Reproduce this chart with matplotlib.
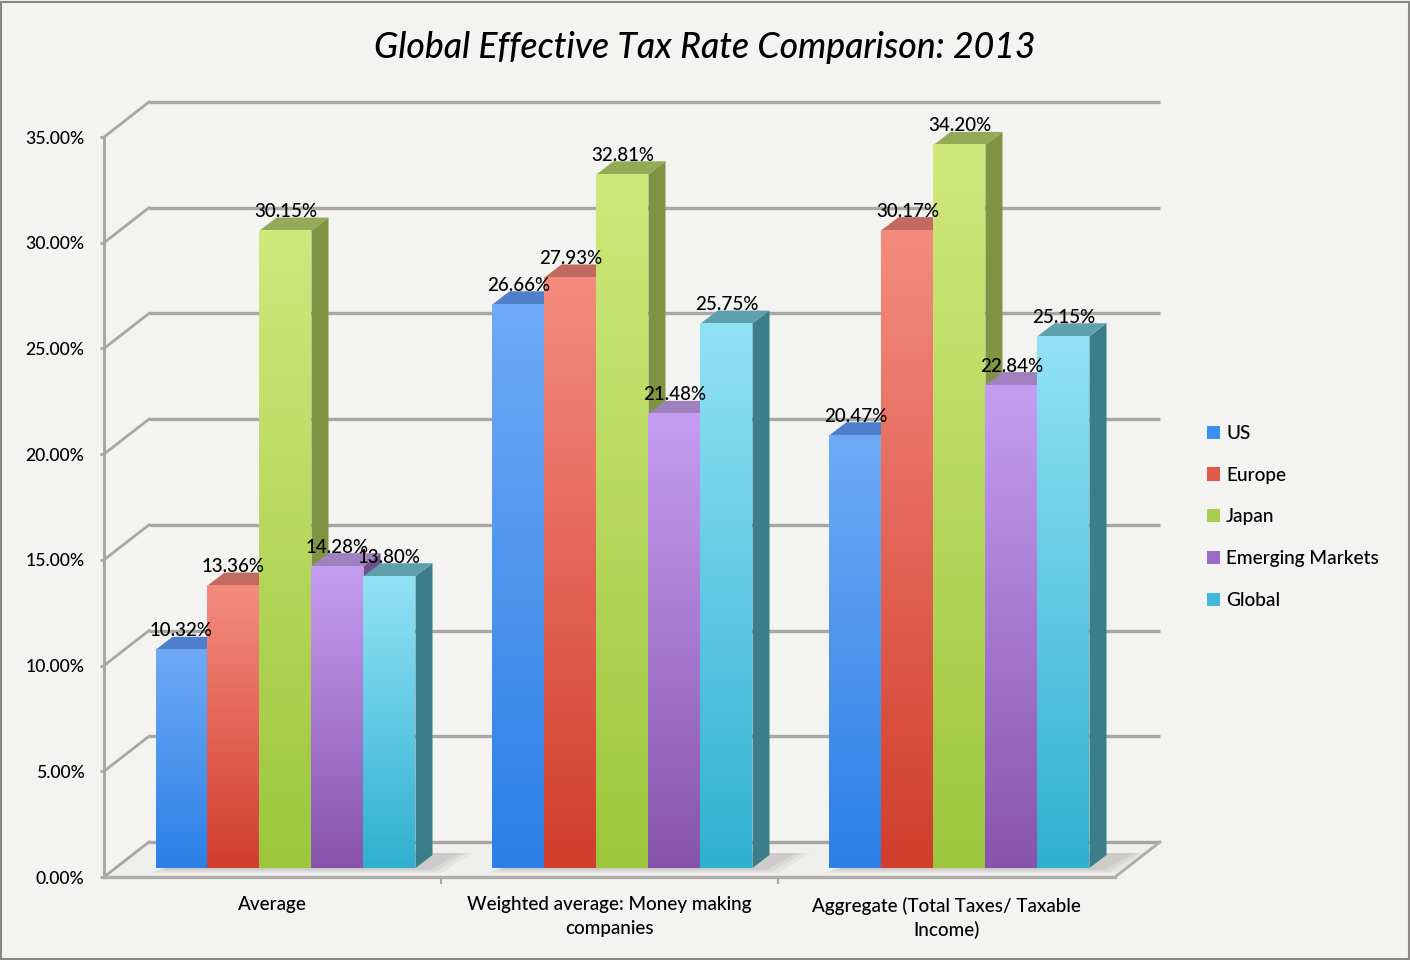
import numpy as np
import matplotlib
matplotlib.use("Agg")
import matplotlib.pyplot as plt
from matplotlib.patches import Polygon, Rectangle, Patch
from matplotlib.colors import LinearSegmentedColormap

plt.rcParams['font.family'] = ['Lato', 'DejaVu Sans']

# ---------------- data ----------------
categories = ["Average",
              "Weighted average: Money making\ncompanies",
              "Aggregate (Total Taxes/ Taxable\nIncome)"]
series_names = ["US", "Europe", "Japan", "Emerging Markets", "Global"]
us = [10.32, 26.66, 20.47]
europe = [13.36, 27.93, 30.17]
japan = [30.15, 32.81, 34.20]
emerging = [14.28, 21.48, 22.84]
global_ = [13.80, 25.75, 25.15]
yticks = [0, 5, 10, 15, 20, 25, 30, 35]
title = "Global Effective Tax Rate Comparison: 2013"

series_values = [us, europe, japan, emerging, global_]

# ---------------- style ----------------
top_cols = ['#6eaaf6', '#f48c7e', '#cfe97c', '#c59df2', '#92e2f6']
bot_cols = ['#2c7fe6', '#d13d2d', '#9dc63c', '#8754ad', '#2fb0d0']
side_cols = ['#2d5fa6', '#a8463c', '#7f9443', '#6f4f8c', '#3b7d88']
topf_cols = ['#4f7fcb', '#c26a60', '#93ab57', '#a081c0', '#5fa0ad']
leg_cols = ['#3c8ef0', '#e05a48', '#a8cc50', '#9a6ac8', '#40b8d8']
grid_col = '#a9a7a4'
bg = '#f3f3f2'
fw = 'medium'

W, H = 1410, 960
fig = plt.figure(figsize=(W / 100, H / 100), dpi=100)
fig.patch.set_facecolor(bg)

# axes in pixel layout
ax_l, ax_r, ax_t, ax_b = 60, 1200, 90, 900
ax = fig.add_axes([ax_l / W, (H - ax_b) / H, (ax_r - ax_l) / W, (ax_b - ax_t) / H])
ax.set_facecolor('none')

front_l, front_r, y0px, y35px = 104, 1115, 877, 137
ppx = (front_r - front_l) / 3.0
ppy = (y0px - y35px) / 35.0
xlim = (-0.5 - (front_l - ax_l) / ppx, 2.5 + (ax_r - front_r) / ppx)
ylim = (-(ax_b - y0px) / ppy, 35 + (y35px - ax_t) / ppy)

DX, DY = 45 / ppx, 35 / ppy          # wall depth
ox, oy = 13 / ppx, 9 / ppy           # bar front offset
ddx, ddy = 17 / ppx, 13 / ppy        # bar depth
bw = 52 / ppx                        # bar width

# floor
floor = Polygon([(-0.5, 0), (2.5, 0), (2.5 + DX, DY), (-0.5 + DX, DY)],
                closed=True, facecolor='#efefee', edgecolor='#b8b6b3', lw=1.5, zorder=1)
ax.add_patch(floor)

# grid lines on back wall and side wall
for v in yticks:
    ax.plot([-0.5 + DX, 2.5 + DX], [v + DY, v + DY], color=grid_col, lw=2.4,
            solid_capstyle='butt', zorder=1.5)
    ax.plot([-0.5, -0.5 + DX], [v, v + DY], color=grid_col, lw=2.0, zorder=1.5)
# right edge of floor
ax.plot([2.5, 2.5 + DX], [0, DY], color='#b0aeab', lw=2.0, zorder=1.6)

n = len(series_names)
z = 3
for j in range(len(categories)):
    gx0 = j - n * bw / 2 + ox
    gx1 = gx0 + n * bw
    # soft shadow on floor
    for k, a in enumerate([0.10, 0.12, 0.14]):
        e = (2 - k) * 6
        sh = Polygon([(gx0 + (8 - e) / ppx, oy - (2 + e / 4) / ppy),
                      (gx1 + (14 + e) / ppx, oy - (2 + e / 4) / ppy),
                      (gx1 + ddx + (28 + e) / ppx, oy + ddy + 2 / ppy),
                      (gx0 + ddx + 20 / ppx, oy + ddy + 2 / ppy)],
                     closed=True, facecolor='#8a8884', edgecolor='none', alpha=a, zorder=2)
        ax.add_patch(sh)
    for i in range(n):
        val = series_values[i][j]
        x0 = gx0 + i * bw
        # side face
        side = Polygon([(x0 + bw, oy), (x0 + bw, oy + val), (x0 + bw + ddx, oy + val + ddy),
                        (x0 + bw + ddx, oy + ddy)], closed=True, facecolor=side_cols[i],
                       edgecolor='none', zorder=z)
        ax.add_patch(side)
        # top face
        topf = Polygon([(x0, oy + val), (x0 + bw, oy + val), (x0 + bw + ddx, oy + val + ddy),
                        (x0 + ddx, oy + val + ddy)], closed=True, facecolor=topf_cols[i],
                       edgecolor='none', zorder=z + 0.1)
        ax.add_patch(topf)
        # front face with vertical gradient
        cmap = LinearSegmentedColormap.from_list('g%d' % i, [bot_cols[i], top_cols[i]])
        grad = np.linspace(0, 1, 256).reshape(-1, 1)
        ax.imshow(grad, extent=(x0, x0 + bw, oy, oy + val), origin='lower', cmap=cmap,
                  aspect='auto', zorder=z + 0.2, interpolation='bilinear')
        ax.annotate(f"{val:.2f}%", xy=(x0 + bw / 2, oy + val), xytext=(0, 7.5),
                    textcoords='offset points', ha='center', va='bottom',
                    fontsize=13.5, fontweight=fw, color='black', zorder=50)
        z += 1

ax.set_xlim(*xlim)
ax.set_ylim(*ylim)
ax.set_autoscale_on(False)

# axes / spines
for s in ['top', 'right']:
    ax.spines[s].set_visible(False)
ax.spines['left'].set_position(('data', -0.5))
ax.spines['left'].set_bounds(0, 35)
ax.spines['left'].set_color(grid_col)
ax.spines['left'].set_linewidth(2.2)
ax.spines['left'].set_zorder(1.7)
ax.spines['bottom'].set_position(('data', 0))
ax.spines['bottom'].set_bounds(-0.5, 2.5)
ax.spines['bottom'].set_color('#b0aeab')
ax.spines['bottom'].set_linewidth(2.4)
ax.spines['bottom'].set_zorder(1.7)

ax.set_yticks(yticks)
ax.set_yticklabels([f"{v:.2f}%" for v in yticks], fontweight=fw)
ax.tick_params(axis='y', length=3, width=2, color=grid_col, pad=11, labelsize=12.7,
               labelcolor='black')
ax.set_xticks([0, 1, 2])
ax.set_xticklabels(categories, fontsize=13.6, linespacing=1.45, fontweight=fw)
ax.set_xticks([0.5, 1.5], minor=True)
ax.tick_params(axis='x', which='major', length=0, pad=14, labelcolor='black')
ax.tick_params(axis='x', which='minor', length=5, width=1.5, color=grid_col)

# title
fig.text(0.5, 1 - 47 / H, title, ha='center', va='center', fontsize=25.7,
         style='italic', fontweight=fw, color='black')

# legend
handles = [Patch(facecolor=c, edgecolor='none') for c in leg_cols]
leg = fig.legend(handles, series_names, loc='upper left',
                 bbox_to_anchor=(1207 / W, 1 - 425 / H), frameon=False,
                 prop={'size': 13.7, 'weight': fw},
                 handlelength=0.7, handleheight=0.7, handletextpad=0.3,
                 labelspacing=1.3, borderpad=0, borderaxespad=0)

# outer border
fig.patches.append(Rectangle((0.001, 0.001), 0.998, 0.997, transform=fig.transFigure,
                             fill=False, edgecolor='#8a8886', lw=1.5))

fig.savefig('out.png', dpi=100, facecolor=bg)
